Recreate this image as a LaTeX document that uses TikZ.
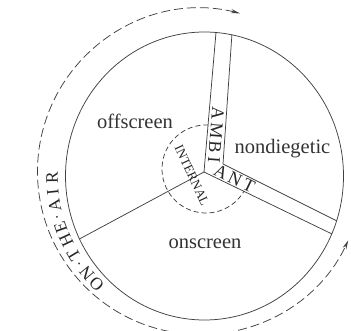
\documentclass[tikz,border=0pt]{standalone}
\usepackage{fontspec}
\setmainfont{Liberation Serif}
\usetikzlibrary{arrows.meta}
\begin{document}
\begin{tikzpicture}[x=1pt,y=1pt,
  ink/.style={draw=black!75, line width=0.75pt},
  region/.style={font=\fontsize{20.5}{22}\selectfont, text=black!80, inner sep=0pt, anchor=base},
  bandletter/.style={font=\fontsize{18}{18}\selectfont, text=black!85, inner sep=0pt},
  ringletter/.style={font=\fontsize{17.5}{17.5}\selectfont, text=black!85, inner sep=0pt},
  innerlabel/.style={font=\fontsize{13}{13}\selectfont, text=black!85, inner sep=0pt}]
\useasboundingbox (0,0) rectangle (351,330);
% centres
\coordinate (C) at (204.5,154);
\coordinate (Out) at (200.5,158.5);
\coordinate (In) at (206,161);
% spoke junctions and rim ends
\coordinate (J) at (204,158);
\coordinate (K) at (223,166);
\coordinate (e1) at (216,297.5);
\coordinate (e2) at (231.9,295.2);
\coordinate (e3) at (331.8,96.1);
\coordinate (e4) at (336.6,109.2);
\coordinate (e5) at (79.4,91);
% main circle
\draw[ink] (C) ellipse [x radius=139, y radius=144];
% spokes
\draw[ink] (J) -- (e1);
\draw[ink] (K) -- (e2);
\draw[ink] (J) -- (e3);
\draw[ink] (K) -- (e4);
\draw[ink] (J) -- (e5);
% outer dashed arc
\draw[ink, dash pattern=on 9pt off 4pt,
  {Stealth[length=9pt,width=4pt]}-{Stealth[length=9pt,width=4pt]}]
  ([shift={(76:163)}]Out) arc[start angle=76, end angle=335, radius=163];
% inner dashed arc
\draw[ink, dash pattern=on 5pt off 3pt]
  ([shift={(87:44)}]In) arc[start angle=87, end angle=329.5, radius=44];
% region labels
\node[region] (off) at (135,201) {offscreen};
\node[region] (nondieg) at (282.5,176.5) {nondiegetic};
\node[region] (on) at (205,82) {onscreen};
% AMBIANT
\node[bandletter, rotate=-94.4] (am1) at (217.8,217) {A};
\node[bandletter, rotate=-94.4] (am2) at (216.4,199.5) {M};
\node[bandletter, rotate=-94.4] (am3) at (215.1,183) {B};
\node[bandletter, rotate=-94.4] (am4) at (214.0,170.5) {I};
\node[bandletter, rotate=-26] (am5) at (221,157.8) {A};
\node[bandletter, rotate=-26] (am6) at (235,151) {N};
\node[bandletter, rotate=-26] (am7) at (249,144) {T};
% INTERNAL
\node[innerlabel, rotate=-65] (internal) at (192,154.5) {INTERNAL};
% ON-THE-AIR
\foreach \ch/\ang [count=\k, evaluate=\ang as \rot using \ang-90] in
  {O/225, N/219.5, {$\cdot$}/215, T/211, H/205, E/199.5, {$\cdot$}/195.5, A/191, I/186, R/180.5}
  \node[ringletter, rotate=\rot] (ring\k) at ([shift={(\ang:152.5)}]C) {\ch};
\end{tikzpicture}
\end{document}
